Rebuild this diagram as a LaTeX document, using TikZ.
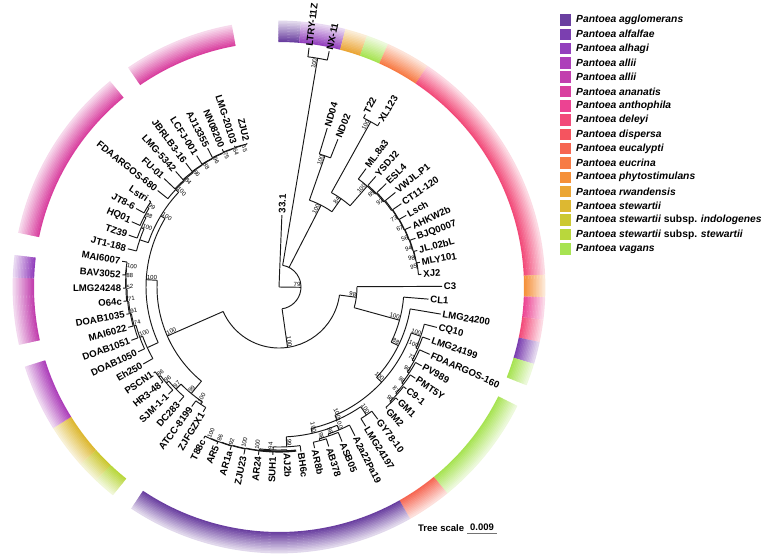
\documentclass[tikz,border=0pt]{standalone}
\usepackage{fontspec}
\setmainfont{Liberation Sans}
\newcommand\LA[1]{\fpeval{87.7-4.86*(#1)}}
\newcommand\MidA[2]{\fpeval{((#1)+(#2))/2}}
\definecolor{cAgg}{HTML}{6A3FA0}
\definecolor{cAlf}{HTML}{7B3FB0}
\definecolor{cAlh}{HTML}{9340BD}
\definecolor{cAlA}{HTML}{AD3FBA}
\definecolor{cAlB}{HTML}{C23FAE}
\definecolor{cAna}{HTML}{D9409F}
\definecolor{cAnt}{HTML}{EC4392}
\definecolor{cDel}{HTML}{F24A79}
\definecolor{cDis}{HTML}{F5545F}
\definecolor{cEuc}{HTML}{F66652}
\definecolor{cEcr}{HTML}{F77B45}
\definecolor{cPhy}{HTML}{F59039}
\definecolor{cRwa}{HTML}{EBA636}
\definecolor{cSte}{HTML}{DDB831}
\definecolor{cInd}{HTML}{CCC831}
\definecolor{cSst}{HTML}{B9D73C}
\definecolor{cVag}{HTML}{A7E352}
\tikzset{
 br/.style={line width=0.95pt, draw=black!90},
 lab/.style={font=\fontsize{9.6}{11}\selectfont\bfseries, inner sep=0.5pt},
 bsl/.style={font=\fontsize{6}{7}\selectfont, inner sep=0.4pt},
 legsq/.style={minimum width=11pt, minimum height=11.5pt, inner sep=0pt},
 legtx/.style={font=\fontsize{10.3}{12}\selectfont\bfseries, anchor=west, inner sep=0pt},
}
\newcommand\leaf[4]{%
 \edef\th{\LA{#1}}%
 \draw[br] (\th:#2) -- (\th:#3);%
 \edef\rr{\fpeval{#3+1.2}}%
 \pgfmathsetmacro\cs{cos(\th)}%
 \ifdim\cs pt<0pt
   \node[lab,rotate=\th+180,anchor=east] (lf#1) at (\th:\rr) {#4};%
 \else
   \node[lab,rotate=\th,anchor=west] (lf#1) at (\th:\rr) {#4};%
 \fi}
\newcommand\bslab[4]{%
 \pgfmathsetmacro\cs{cos(#2)}%
 \ifdim\cs pt<0pt
  \node[bsl,rotate=#2+180,anchor=south west] (bs#1) at (#2:#3) {#4};%
 \else
  \node[bsl,rotate=#2,anchor=south east] (bs#1) at (#2:#3) {#4};%
 \fi}
\newcommand\inode[7]{%
 \draw[br] (#2:#3) -- (#2:#4);%
 \draw[br] (#5:#4) arc[start angle=#5, end angle=#6, radius=#4pt];%
 \if\relax\detokenize{#7}\relax\else\bslab{#1}{#2}{#4}{#7}\fi}
\newcommand\seg[3]{%
 \edef\sA{\fpeval{\LA{#1}+2.43}}%
 \edef\sB{\fpeval{\LA{#2}-2.43}}%
 \foreach \k in {0,...,13}{%
   \pgfmathsetmacro\ra{245+1.5*\k}%
   \pgfmathsetmacro\rb{\ra+1.9}%
   \pgfmathsetmacro\pc{100-80*\k/13}%
   \fill[#3!\pc!white] (\sA:\ra) arc[start angle=\sA,end angle=\sB,radius=\ra pt] -- (\sB:\rb) arc[start angle=\sB,end angle=\sA,radius=\rb pt] -- cycle;%
 }}
\newcommand\legrow[3]{%
 \node[legsq,fill=#2] (sq#1) at (565,{555-20-14.3*#1}) {};%
 \node[legtx] (lt#1) at (576,{555-20-14.3*#1}) {#3};}
\begin{document}
\begin{tikzpicture}[x=1pt,y=1pt]
\useasboundingbox (0,0) rectangle (767,555);
% ---------- angles ----------
\edef\tLN{\MidA{\LA{1}}{\LA{2}}}
\edef\tND{\MidA{\LA{3}}{\LA{4}}}
\edef\tTX{\MidA{\LA{5}}{\LA{6}}}
\edef\tMi{\MidA{\LA{16}}{\LA{17}}}
\edef\tMh{\MidA{\LA{15}}{\tMi}}
\edef\tMg{\MidA{\LA{14}}{\tMh}}
\edef\tMf{\MidA{\LA{13}}{\tMg}}
\edef\tMe{\MidA{\LA{12}}{\tMf}}
\edef\tMd{\MidA{\LA{11}}{\tMe}}
\edef\tMc{\MidA{\LA{10}}{\tMd}}
\edef\tMb{\MidA{\LA{9}}{\tMc}}
\edef\tMa{\MidA{\LA{8}}{\tMb}}
\edef\tMz{\MidA{\LA{7}}{\tMa}}
\edef\tNe{\MidA{\tTX}{\tMz}}
\edef\tNa{\MidA{\tND}{\tNe}}
\edef\tHg{\MidA{\LA{27}}{\LA{28}}}
\edef\tHf{\MidA{\LA{26}}{\tHg}}
\edef\tHe{\MidA{\LA{25}}{\tHf}}
\edef\tHd{\MidA{\LA{24}}{\tHe}}
\edef\tHc{\MidA{\LA{23}}{\tHd}}
\edef\tHb{\MidA{\LA{22}}{\tHc}}
\edef\tHa{\MidA{\LA{21}}{\tHb}}
\edef\tGL{\MidA{\LA{29}}{\LA{30}}}
\edef\tKc{\MidA{\LA{33}}{\LA{34}}}
\edef\tKb{\MidA{\LA{32}}{\tKc}}
\edef\tKa{\MidA{\LA{31}}{\tKb}}
\edef\tWg{\MidA{\LA{41}}{\LA{42}}}
\edef\tWf{\MidA{\LA{40}}{\tWg}}
\edef\tWe{\MidA{\LA{39}}{\tWf}}
\edef\tWd{\MidA{\LA{38}}{\tWe}}
\edef\tWc{\MidA{\LA{37}}{\tWd}}
\edef\tWb{\MidA{\LA{36}}{\tWc}}
\edef\tWa{\MidA{\LA{35}}{\tWb}}
\edef\tJ{\MidA{\tKa}{\tWa}}
\edef\tI{\MidA{\tGL}{\tJ}}
\edef\tG{\MidA{\tHa}{\tI}}
\edef\tF{\MidA{\LA{20}}{\tG}}
\edef\tE{\MidA{\LA{19}}{\tF}}
\edef\tC{\MidA{\LA{18}}{\tE}}
\edef\tP{\MidA{\LA{43}}{\LA{44}}}
\edef\tRc{\MidA{\LA{47}}{\LA{48}}}
\edef\tRb{\MidA{\LA{46}}{\tRc}}
\edef\tRa{\MidA{\LA{45}}{\tRb}}
\edef\tPP{\MidA{\tP}{\tRa}}
\edef\tSh{\MidA{\LA{56}}{\LA{57}}}
\edef\tSg{\MidA{\LA{55}}{\tSh}}
\edef\tSf{\MidA{\LA{54}}{\tSg}}
\edef\tSe{\MidA{\LA{53}}{\tSf}}
\edef\tSd{\MidA{\LA{52}}{\tSe}}
\edef\tSc{\MidA{\LA{51}}{\tSd}}
\edef\tSb{\MidA{\LA{50}}{\tSc}}
\edef\tSa{\MidA{\LA{49}}{\tSb}}
\edef\tUd{\MidA{\LA{61}}{\LA{62}}}
\edef\tUc{\MidA{\LA{60}}{\tUd}}
\edef\tUb{\MidA{\LA{59}}{\tUc}}
\edef\tUa{\MidA{\LA{58}}{\tUb}}
\edef\tVh{\MidA{\LA{70}}{\LA{71}}}
\edef\tVg{\MidA{\LA{69}}{\tVh}}
\edef\tVf{\MidA{\LA{68}}{\tVg}}
\edef\tVe{\MidA{\LA{67}}{\tVf}}
\edef\tVd{\MidA{\LA{66}}{\tVe}}
\edef\tVc{\MidA{\LA{65}}{\tVd}}
\edef\tVb{\MidA{\LA{64}}{\tVc}}
\edef\tVa{\MidA{\LA{63}}{\tVb}}
\edef\tU{\MidA{\tUa}{\tVa}}
\edef\tQ{\MidA{\tSa}{\tU}}
\edef\tD{\MidA{\tPP}{\tQ}}
\edef\tB{\MidA{\tC}{\tD}}
\edef\tA{\MidA{\tLN}{\tB}}
\begin{scope}[shift={(279,268)}]
% ---------- ring ----------
\seg{0}{0}{cAgg}
\seg{1}{2}{cAlh}
\seg{3}{3}{cRwa}
\seg{4}{4}{cVag}
\seg{5}{6}{cEcr}
\seg{7}{17}{cDel}
\seg{18}{18}{cPhy}
\seg{19}{19}{cAnt}
\seg{20}{20}{cDel}
\seg{21}{21}{cAlf}
\seg{22}{22}{cVag}
\seg{24}{28}{cVag}
\seg{29}{30}{cEuc}
\seg{31}{43}{cAgg}
\seg{45}{45}{cSst}
\seg{46}{46}{cInd}
\seg{47}{48}{cSte}
\seg{49}{51}{cAlA}
\seg{53}{55}{cAlB}
\seg{56}{56}{cAlh}
\seg{58}{65}{cAna}
\seg{67}{71}{cAna}
% ---------- tree ----------
\coordinate (root) at (0,0);
\inode{nA}{\tA}{0}{22}{\tLN}{\tB}{79}
\leaf{0}{0}{72}{33.1}
\inode{nLN}{\tLN}{22}{232}{\LA{1}}{\LA{2}}{100}
\leaf{1}{232}{241}{LTRY-11Z}
\leaf{2}{232}{241}{NX-11}
\inode{nN1}{\tNa}{22}{92}{\tND}{\tNe}{100}
\inode{nND}{\tND}{92}{139}{\LA{3}}{\LA{4}}{100}
\leaf{3}{139}{166}{ND04}
\leaf{4}{139}{159}{ND02}
\inode{nN84}{\tNe}{92}{108}{\tTX}{\tMz}{84}
\inode{nTX}{\tTX}{108}{189}{\LA{5}}{\LA{6}}{100}
\leaf{5}{189}{193}{T22}
\leaf{6}{189}{193}{XL123}
\inode{m0}{\tMz}{108}{134}{\LA{7}}{\tMa}{100}
\inode{m1}{\tMa}{134}{135}{\LA{8}}{\tMb}{85}
\inode{m2}{\tMb}{135}{136}{\LA{9}}{\tMc}{92}
\inode{m3}{\tMc}{136}{137}{\LA{10}}{\tMd}{}
\inode{m4}{\tMd}{137}{137.5}{\LA{11}}{\tMe}{73}
\inode{m5}{\tMe}{137.5}{138}{\LA{12}}{\tMf}{67}
\inode{m6}{\tMf}{138}{138.5}{\LA{13}}{\tMg}{56}
\inode{m7}{\tMg}{138.5}{139}{\LA{14}}{\tMh}{94}
\inode{m8}{\tMh}{139}{139.5}{\LA{15}}{\tMi}{98}
\inode{m9}{\tMi}{139.5}{140}{\LA{16}}{\LA{17}}{95}
\leaf{7}{134}{147}{ML.8a3}
\leaf{8}{135}{147}{YSDJ2}
\leaf{9}{136}{149}{ESL4}
\leaf{10}{137}{150}{VWJL.P1}
\leaf{11}{137.5}{148}{CT11-120}
\leaf{12}{138}{146}{Lsch}
\leaf{13}{138.5}{145}{AHKW2b}
\leaf{14}{139}{145}{BJQ0007}
\leaf{15}{139.5}{143}{JL.02bL}
\leaf{16}{140}{143}{MLY101}
\leaf{17}{140}{143}{XJ2}
\inode{nB}{\tB}{22}{61}{\tC}{\tD}{100}
\inode{nC}{\tC}{61}{78}{\LA{18}}{\tE}{98}
\leaf{18}{78}{163}{C3}
\inode{nE}{\tE}{78}{125}{\LA{19}}{\tF}{100}
\leaf{19}{125}{150}{CL1}
\inode{nF}{\tF}{125}{133}{\LA{20}}{\tG}{88}
\leaf{20}{133}{164}{LMG24200}
\inode{nG}{\tG}{133}{140}{\tHa}{\tI}{100}
\inode{h0}{\tHa}{140}{150}{\LA{21}}{\tHb}{100}
\inode{h1}{\tHb}{150}{152}{\LA{22}}{\tHc}{100}
\inode{h2}{\tHc}{152}{154}{\LA{23}}{\tHd}{73}
\inode{h3}{\tHd}{154}{156}{\LA{24}}{\tHe}{90}
\inode{h4}{\tHe}{156}{158}{\LA{25}}{\tHf}{98}
\inode{h5}{\tHf}{158}{159.5}{\LA{26}}{\tHg}{87}
\inode{h6}{\tHg}{159.5}{161}{\LA{27}}{\LA{28}}{98}
\leaf{21}{150}{163}{CQ10}
\leaf{22}{152}{160}{LMG24199}
\leaf{23}{154}{165}{FDAARGOS-160}
\leaf{24}{156}{163}{PV989}
\leaf{25}{158}{164}{PMT5Y}
\leaf{26}{159.5}{163}{C9-1}
\leaf{27}{161}{164}{GM1}
\leaf{28}{161}{162.5}{GM2}
\inode{nI}{\tI}{140}{145}{\tGL}{\tJ}{100}
\inode{nGL}{\tGL}{145}{155}{\LA{29}}{\LA{30}}{100}
\leaf{29}{155}{165}{GY78-10}
\leaf{30}{155}{164}{LMG24197}
\inode{nJ}{\tJ}{145}{150}{\tKa}{\tWa}{100}
\inode{k0}{\tKa}{150}{155}{\LA{31}}{\tKb}{100}
\inode{k1}{\tKb}{155}{157}{\LA{32}}{\tKc}{98}
\inode{k2}{\tKc}{157}{159}{\LA{33}}{\LA{34}}{98}
\leaf{31}{155}{167}{A2a22Pa19}
\leaf{32}{157}{167}{ASB05}
\leaf{33}{159}{167}{AB378}
\leaf{34}{159}{165}{AR8b}
\inode{w0}{\tWa}{150}{160}{\LA{35}}{\tWb}{99}
\inode{w1}{\tWb}{160}{163}{\LA{36}}{\tWc}{94}
\inode{w2}{\tWc}{163}{164.5}{\LA{37}}{\tWd}{100}
\inode{w3}{\tWd}{164.5}{165}{\LA{38}}{\tWe}{100}
\inode{w4}{\tWe}{165}{165.5}{\LA{39}}{\tWf}{92}
\inode{w5}{\tWf}{165.5}{166}{\LA{40}}{\tWg}{86}
\inode{w6}{\tWg}{166}{166.5}{\LA{41}}{\LA{42}}{100}
\draw[black!90, line width=2.1pt] (-84:164.5) arc[start angle=-84, end angle=-97, radius=164.5pt];
\leaf{35}{160}{166}{BH6c}
\leaf{36}{163}{165}{AJ2b}
\leaf{37}{164.5}{168}{SUH1}
\leaf{38}{165}{169}{AR24}
\leaf{39}{165.5}{171}{ZJU23}
\leaf{40}{166}{170}{AR1a}
\leaf{41}{166.5}{169}{AR5}
\leaf{42}{166.5}{169}{T88c}
\inode{nD}{\tD}{61}{122}{\tPP}{\tQ}{100}
\inode{nPP}{\tPP}{122}{138}{\tP}{\tRa}{99}
\inode{nP}{\tP}{138}{141}{\LA{43}}{\LA{44}}{100}
\leaf{43}{141}{146}{ZJFGZX1}
\leaf{44}{141}{148}{ATCC-8199}
\inode{ra}{\tRa}{138}{145}{\LA{45}}{\tRb}{97}
\inode{rb}{\tRb}{145}{148}{\LA{46}}{\tRc}{96}
\inode{rc}{\tRc}{148}{150}{\LA{47}}{\LA{48}}{86}
\leaf{45}{145}{152}{DC283}
\leaf{46}{148}{154}{SJM-1-1}
\leaf{47}{150}{152}{HR3-48}
\leaf{48}{150}{152}{PSCN1}
\inode{nQ}{\tQ}{122}{133}{\tSa}{\tU}{100}
\inode{sa}{\tSa}{133}{145}{\LA{49}}{\tSb}{}
\inode{sb}{\tSb}{145}{148}{\LA{50}}{\tSc}{100}
\inode{sc}{\tSc}{148}{150}{\LA{51}}{\tSd}{74}
\inode{sd}{\tSd}{150}{151}{\LA{52}}{\tSe}{91}
\inode{se}{\tSe}{151}{152}{\LA{53}}{\tSf}{71}
\inode{sf}{\tSf}{152}{153}{\LA{54}}{\tSg}{52}
\inode{sg}{\tSg}{153}{153.5}{\LA{55}}{\tSh}{88}
\inode{sh}{\tSh}{153.5}{154}{\LA{56}}{\LA{57}}{100}
\leaf{49}{145}{156}{Eh250}
\leaf{50}{148}{155}{DOAB1050}
\leaf{51}{150}{157}{DOAB1051}
\leaf{52}{151}{156}{MAI6022}
\leaf{53}{152}{155}{DOAB1035}
\leaf{54}{153}{156}{O64c}
\leaf{55}{153.5}{156}{LMG24248}
\leaf{56}{154}{157}{BAV3052}
\leaf{57}{154}{159}{MAI6007}
\inode{nU}{\tU}{133}{138}{\tUa}{\tVa}{100}
\inode{ua}{\tUa}{138}{147}{\LA{58}}{\tUb}{}
\inode{ub}{\tUb}{147}{150}{\LA{59}}{\tUc}{100}
\inode{uc}{\tUc}{150}{152}{\LA{60}}{\tUd}{88}
\inode{ud}{\tUd}{152}{154}{\LA{61}}{\LA{62}}{99}
\leaf{58}{147}{156}{JT1-188}
\leaf{59}{150}{159}{TZ39}
\leaf{60}{152}{161}{HQ01}
\leaf{61}{154}{163}{JT8-6}
\leaf{62}{154}{156}{Lstri}
\inode{va}{\tVa}{138}{142}{\LA{63}}{\tVb}{100}
\inode{vb}{\tVb}{142}{143}{\LA{64}}{\tVc}{84}
\inode{vc}{\tVc}{143}{144}{\LA{65}}{\tVd}{86}
\inode{vd}{\tVd}{144}{144.5}{\LA{66}}{\tVe}{88}
\inode{ve}{\tVe}{144.5}{145}{\LA{67}}{\tVf}{96}
\inode{vf}{\tVf}{145}{145.5}{\LA{68}}{\tVg}{75}
\inode{vg}{\tVg}{145.5}{146}{\LA{69}}{\tVh}{64}
\inode{vh}{\tVh}{146}{146.5}{\LA{70}}{\LA{71}}{65}
\leaf{63}{142}{155}{FDAARGOS-680}
\leaf{64}{143}{158}{FU-01}
\leaf{65}{144}{155}{LMG-5342}
\leaf{66}{144.5}{155}{JBRLB3-16}
\leaf{67}{145}{155}{LCFJ-001}
\leaf{68}{145.5}{156}{AJ13355}
\leaf{69}{146}{149}{NN08200}
\leaf{70}{146.5}{148}{LMG-20103}
\leaf{71}{146.5}{147.5}{ZJU2}
\end{scope}
% ---------- legend ----------
\legrow{0}{cAgg}{\textit{Pantoea agglomerans}}
\legrow{1}{cAlf}{\textit{Pantoea alfalfae}}
\legrow{2}{cAlh}{\textit{Pantoea alhagi}}
\legrow{3}{cAlA}{\textit{Pantoea allii}}
\legrow{4}{cAlB}{\textit{Pantoea allii}}
\legrow{5}{cAna}{\textit{Pantoea ananatis}}
\legrow{6}{cAnt}{\textit{Pantoea anthophila}}
\legrow{7}{cDel}{\textit{Pantoea deleyi}}
\legrow{8}{cDis}{\textit{Pantoea dispersa}}
\legrow{9}{cEuc}{\textit{Pantoea eucalypti}}
\legrow{10}{cEcr}{\textit{Pantoea eucrina}}
\legrow{11}{cPhy}{\textit{Pantoea phytostimulans}}
\legrow{12}{cRwa}{\textit{Pantoea rwandensis}}
\legrow{13}{cSte}{\textit{Pantoea stewartii}}
\legrow{14}{cInd}{\textit{Pantoea stewartii} subsp. \textit{indologenes}}
\legrow{15}{cSst}{\textit{Pantoea stewartii} subsp. \textit{stewartii}}
\legrow{16}{cVag}{\textit{Pantoea vagans}}
% ---------- tree scale ----------
\node[font=\fontsize{9.5}{11}\selectfont\bfseries, anchor=base west, inner sep=0pt] (tsl) at (418,24) {Tree scale};
\node[font=\fontsize{9.5}{11}\selectfont\bfseries, anchor=base, inner sep=0pt] (tsv) at (482,24.5) {0.009};
\coordinate (sbl) at (467,22);
\coordinate (sbr) at (497,22);
\draw[black!55, line width=0.9pt] (sbl) -- (sbr);
\end{tikzpicture}
\end{document}
